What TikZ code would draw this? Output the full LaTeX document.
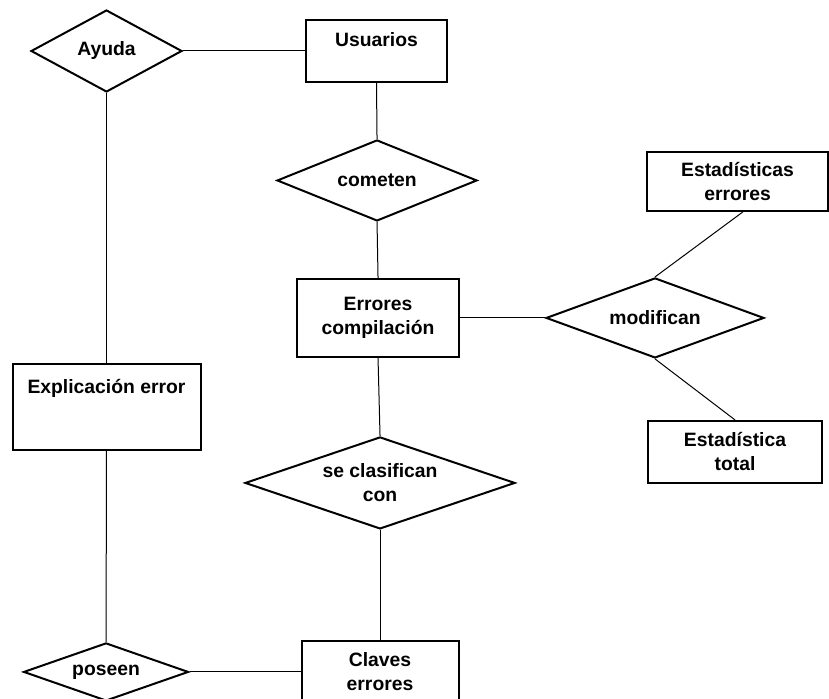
\documentclass[tikz,border=0pt]{standalone}
\usepackage{fontspec}
\setmainfont{Liberation Sans}
\usetikzlibrary{positioning,shapes.geometric}

\begin{document}
\begin{tikzpicture}[x=0.75pt, y=-0.75pt, entity/.style={rectangle, draw, line width=1.5pt, inner sep=0pt, align=center, font=\bfseries\fontsize{14.5}{18}\selectfont}, relation/.style={diamond, aspect=2.8, draw, line width=1.5pt, inner sep=0pt, align=center, font=\bfseries\fontsize{14.5}{18}\selectfont}, link/.style={draw, line width=0.75pt}]
	\useasboundingbox (0,0) rectangle (829,699);
	\node[relation, minimum width=113.25pt, minimum height=61.5pt] (ayuda) at (106.5,51) {Ayuda};
	\node[entity, minimum width=105.75pt, minimum height=46.5pt] (usuarios) [right of=ayuda, node distance=202.5pt] {Usuarios\\ \mbox{}};
	\node[relation, minimum width=150pt, minimum height=60.75pt] (cometen) [below of=usuarios, node distance=97.1pt, xshift=0.4pt] {cometen};
	\node[entity, minimum width=121.5pt, minimum height=58.5pt] (errores) [below of=cometen, node distance=103.1pt, xshift=0.75pt] {Errores\\compilación};
	\node[relation, minimum width=163.5pt, minimum height=60pt] (modifican) [right of=errores, node distance=207.75pt] {modifican};
	\node[entity, minimum width=135.75pt, minimum height=44.25pt] (esterr) [above of=modifican, node distance=102.4pt, xshift=61.9pt] {Estadísticas\\errores};
	\node[entity, minimum width=130.5pt, minimum height=46.5pt] (esttot) [below of=modifican, node distance=100.5pt, xshift=60pt] {Estadística\\total};
	\node[relation, minimum width=202.5pt, minimum height=69pt] (seclas) [below of=errores, node distance=123.75pt, xshift=1.5pt] {se clasifican\\con};
	\node[entity, minimum width=117.75pt, minimum height=46.5pt] (claves) [below of=seclas, node distance=141.75pt] {Claves\\errores};
	\node[relation, minimum width=123.75pt, minimum height=43.5pt] (poseen) [left of=claves, node distance=205.5pt] {poseen};
	\node[entity, minimum width=141pt, minimum height=64.5pt] (explic) [below of=ayuda, node distance=267pt] {Explicación error\\[13.6pt]\mbox{}};
	\path (ayuda.east) edge[link] (usuarios.west);
	\path (ayuda.south) edge[link] (explic.north);
	\path (usuarios.south) edge[link] (cometen.north);
	\path (cometen.south) edge[link] (errores.north);
	\path (errores.east) edge[link] (modifican.west);
	\path (modifican.north) edge[link] ([xshift=4pt]esterr.south);
	\path (modifican.south) edge[link] (esttot.north);
	\path (errores.south) edge[link] (seclas.north);
	\path (seclas.south) edge[link] (claves.north);
	\path (explic.south) edge[link] (poseen.north);
	\path (poseen.east) edge[link] (claves.west);
\end{tikzpicture}
\end{document}
